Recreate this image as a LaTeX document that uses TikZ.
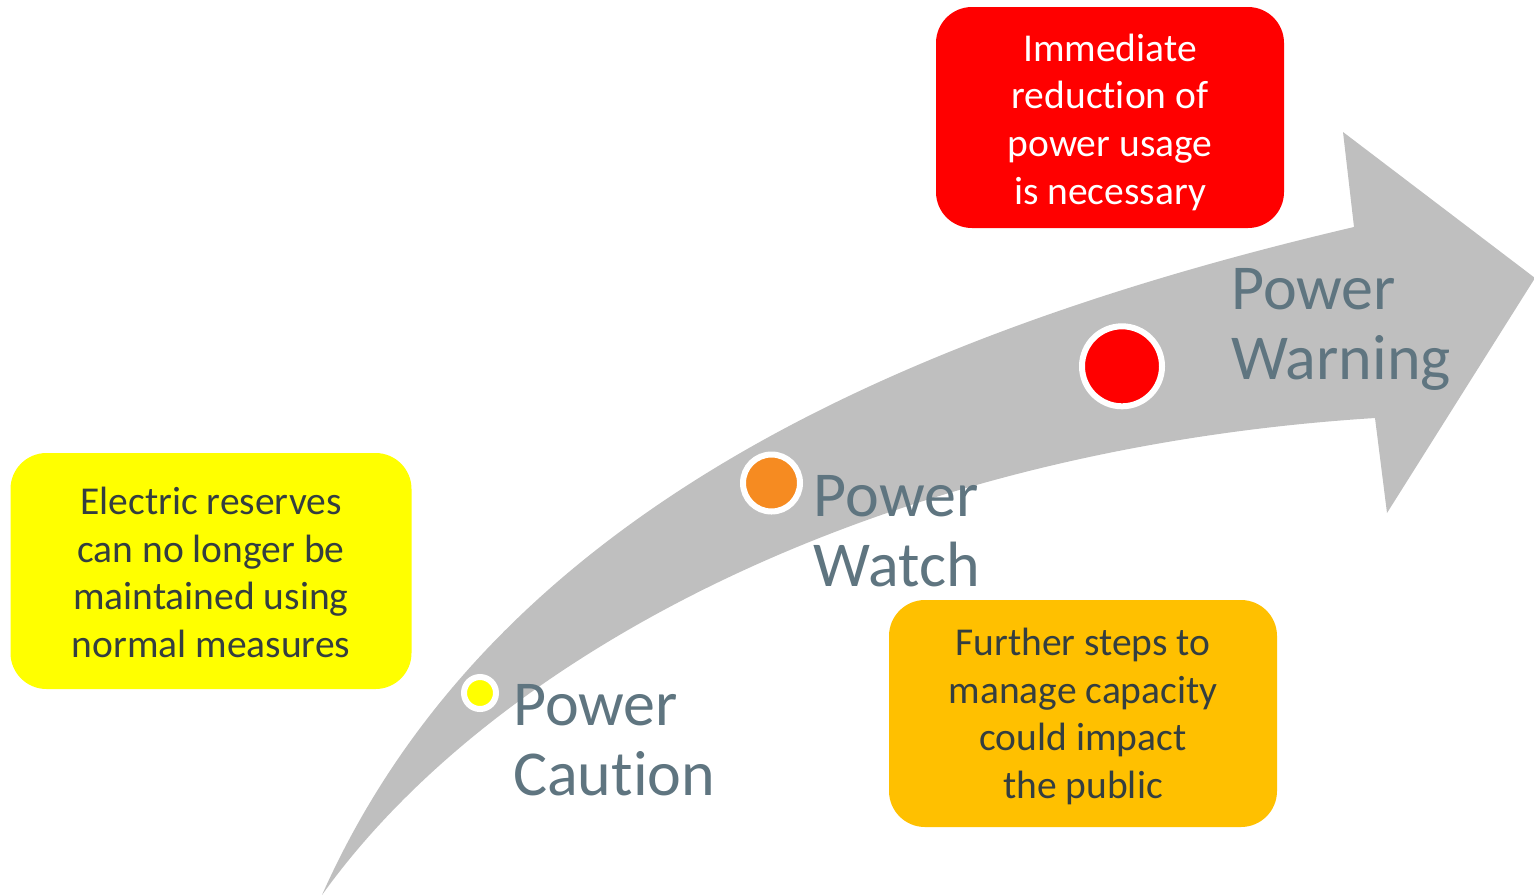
\documentclass[tikz,border=0pt]{standalone}
\usepackage{fontspec}
\setmainfont[Ligatures=NoCommon]{Carlito}
\definecolor{arrowgray}{RGB}{191,191,191}
\definecolor{boxink}{RGB}{52,62,64}
\definecolor{labelink}{RGB}{95,117,128}
\definecolor{warnred}{RGB}{255,0,0}
\definecolor{watchorange}{RGB}{246,139,33}
\definecolor{cautionyellow}{RGB}{255,255,0}
\definecolor{boxorange}{RGB}{255,192,0}
\tikzset{
  infobox/.style={rectangle, rounded corners=36pt, inner sep=0pt, draw=none},
  boxtext/.style={font=\fontsize{39.5}{47.6}\selectfont, text=boxink, align=center, inner sep=0pt, anchor=base},
  stagelabel/.style={font=\fontsize{64}{70}\selectfont, text=labelink, align=left, inner sep=0pt, anchor=base west},
  dot/.style={circle, draw=white, line width=6pt, inner sep=0pt}
}
\begin{document}
\begin{tikzpicture}[x=1pt,y=-1pt]
\useasboundingbox (0,0) rectangle (1534,895);
% curved arrow
\fill[arrowgray] (322,895) .. controls (480,540) and (850,345) .. (1354,227)
  -- (1343,132) -- (1535,278) -- (1387,513) -- (1375,418)
  .. controls (870,450) and (490,660) .. (322,895) -- cycle;
% boxes
\node[infobox, fill=warnred, minimum width=348pt, minimum height=221pt] (warnbox) at (1110,117.5) {};
\node[infobox, fill=cautionyellow, minimum width=401pt, minimum height=236pt] (cautionbox) at (211,571) {};
\node[infobox, fill=boxorange, minimum width=388pt, minimum height=227pt] (watchbox) at (1083,713.5) {};
\node[boxtext, text=white] (warntext) at (1110,204) {Immediate\\reduction of\\power usage\\is necessary};
\node[boxtext] (cautiontext) at (211,657.5) {Electric reserves\\can no longer be\\maintained using\\normal measures};
\node[boxtext] (watchtext) at (1083,798.5) {Further steps to\\manage capacity\\could impact\\the public};
% dots
\node[dot, fill=cautionyellow, minimum size=32pt] (cautiondot) at (480,693) {};
\node[dot, fill=watchorange, minimum size=57pt] (watchdot) at (771.5,483) {};
\node[dot, fill=warnred, minimum size=80pt] (warndot) at (1122,366.3) {};
% labels
\node[stagelabel] (cautionlabel) at (513,795) {Power\\Caution};
\node[stagelabel] (watchlabel) at (813.5,586) {Power\\Watch};
\node[stagelabel] (warnlabel) at (1231,379) {Power\\Warning};
\end{tikzpicture}
\end{document}
